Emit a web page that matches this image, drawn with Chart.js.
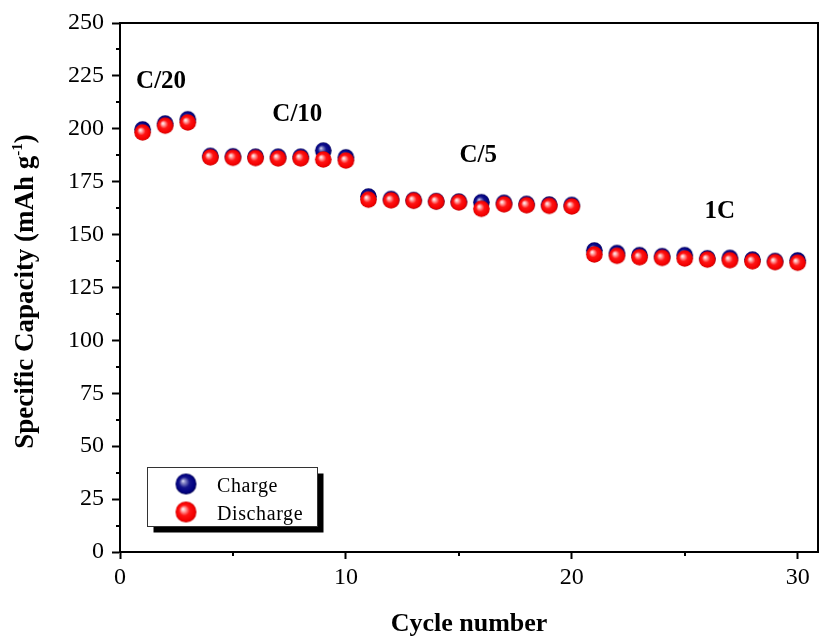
<!DOCTYPE html>
<html>
<head>
<meta charset="utf-8">
<script src="https://cdn.jsdelivr.net/npm/chart.js@4/dist/chart.umd.min.js"></script>
<style>
  html, body { margin: 0; padding: 0; background: #ffffff; }
  #wrap { width: 823px; height: 637px; }
</style>
</head>
<body>
<div id="wrap"><canvas id="c" width="823" height="637"></canvas></div>
<script>
// Rate-capability test: specific capacity per cycle
const cycles = [1,2,3,4,5,6,7,8,9,10,11,12,13,14,15,16,17,18,19,20,21,22,23,24,25,26,27,28,29,30];
const chargeCapacity = [199.7,202.5,204.5,187.2,187.0,186.8,186.8,186.8,189.7,186.5,
                        168.0,166.8,166.3,165.8,165.6,165.3,165.0,164.5,164.2,164.0,
                        142.5,141.3,140.3,139.8,140.3,138.8,139.0,138.2,137.5,137.8];
const dischargeCapacity = [198.3,201.5,203.0,186.5,186.3,186.2,186.0,186.0,185.5,185.0,
                           166.5,166.2,166.0,165.6,165.2,162.2,164.3,163.9,163.6,163.3,
                           140.6,140.0,139.3,139.0,138.7,138.2,137.9,137.4,137.0,136.7];
const rateLabels = ['C/20', 'C/10', 'C/5', '1C'];
const seriesNames = ['Charge', 'Discharge'];

// where each rate label sits, in axis units (x: cycle, y: capacity at text baseline)
const rateLabelAnchors = [[1.82, 219.5], [7.85, 203.8], [15.86, 184.4], [26.55, 157.9]];

const SERIF = "'Liberation Serif', 'Times New Roman', Times, serif";

// shaded ball used as point marker
function makeBall(r, stops) {
  const c = document.createElement('canvas');
  const s = Math.ceil(2 * r + 2);
  c.width = s; c.height = s;
  const g = c.getContext('2d');
  const cx = s / 2, cy = s / 2;
  const grad = g.createRadialGradient(cx - r * 0.3, cy - r * 0.3, 0, cx, cy, r);
  stops.forEach(([o, col]) => grad.addColorStop(o, col));
  g.fillStyle = grad;
  g.beginPath();
  g.arc(cx, cy, r, 0, Math.PI * 2);
  g.fill();
  return c;
}
const redStops = [[0, '#ffffff'], [0.18, '#ffb4b4'], [0.5, '#ff1414'], [0.85, '#f40000'], [1, '#c80000']];
const blueStops = [[0, '#e8e8ff'], [0.18, '#8c8cc8'], [0.5, '#14148c'], [0.85, '#000080'], [1, '#000050']];
const redBall = makeBall(8.3, redStops);
const blueBall = makeBall(8.3, blueStops);
const redBallBig = makeBall(10.5, redStops);
const blueBallBig = makeBall(10.5, blueStops);

const decorations = {
  id: 'decorations',
  afterDraw(chart) {
    const ctx = chart.ctx;
    const xs = chart.scales.x, ys = chart.scales.y;
    const a = chart.chartArea;
    ctx.save();

    // frame (top and right)
    ctx.strokeStyle = '#000';
    ctx.lineWidth = 2;
    ctx.beginPath();
    ctx.moveTo(a.left, a.top);
    ctx.lineTo(a.right, a.top);
    ctx.lineTo(a.right, a.bottom);
    ctx.stroke();

    // minor ticks
    ctx.lineWidth = 2;
    ctx.beginPath();
    for (let v = 12.5; v < 250; v += 25) {
      const p = Math.round(ys.getPixelForValue(v));
      ctx.moveTo(a.left, p); ctx.lineTo(a.left - 4, p);
    }
    for (let v = 5; v < 31; v += 10) {
      const p = Math.round(xs.getPixelForValue(v));
      ctx.moveTo(p, a.bottom); ctx.lineTo(p, a.bottom + 4);
    }
    ctx.stroke();

    // rate labels
    ctx.fillStyle = '#000';
    ctx.font = 'bold 25px ' + SERIF;
    ctx.textAlign = 'center';
    ctx.textBaseline = 'alphabetic';
    rateLabels.forEach((t, i) => {
      const [vx, vy] = rateLabelAnchors[i];
      ctx.fillText(t, xs.getPixelForValue(vx), ys.getPixelForValue(vy));
    });

    // axis titles
    ctx.font = 'bold 26px ' + SERIF;
    ctx.fillText('Cycle number', (a.left + a.right) / 2, 631);

    ctx.save();
    ctx.translate(33, 291.5);
    ctx.rotate(-Math.PI / 2);
    const mainTxt = 'Specific Capacity (mAh g';
    const supTxt = '-1';
    const endTxt = ')';
    ctx.font = 'bold 27px ' + SERIF;
    const w1 = ctx.measureText(mainTxt).width;
    const w3 = ctx.measureText(endTxt).width;
    ctx.font = 'bold 15px ' + SERIF;
    const w2 = ctx.measureText(supTxt).width;
    const total = w1 + w2 + w3;
    let x0 = -total / 2;
    ctx.textAlign = 'left';
    ctx.font = 'bold 27px ' + SERIF;
    ctx.fillText(mainTxt, x0, 0);
    ctx.font = 'bold 15px ' + SERIF;
    ctx.fillText(supTxt, x0 + w1, -11);
    ctx.font = 'bold 27px ' + SERIF;
    ctx.fillText(endTxt, x0 + w1 + w2, 0);
    ctx.restore();

    // legend box with drop shadow
    const lx = 147.5, ly = 467.5, lw = 170, lh = 59;
    ctx.fillStyle = '#000';
    ctx.fillRect(lx + 6, ly + 6, lw, lh);
    ctx.fillStyle = '#fff';
    ctx.fillRect(lx, ly, lw, lh);
    ctx.strokeStyle = '#333';
    ctx.lineWidth = 1;
    ctx.strokeRect(lx, ly, lw, lh);

    ctx.drawImage(blueBallBig, 186 - blueBallBig.width / 2, 484 - blueBallBig.height / 2);
    ctx.drawImage(redBallBig, 186 - redBallBig.width / 2, 512 - redBallBig.height / 2);
    ctx.fillStyle = '#000';
    ctx.textAlign = 'left';
    ctx.letterSpacing = '0.6px';
    ctx.font = '20px ' + SERIF;
    ctx.fillText(seriesNames[0], 217, 491.5);
    ctx.fillText(seriesNames[1], 217, 519.5);
    ctx.letterSpacing = '0px';

    ctx.restore();
  }
};

new Chart(document.getElementById('c'), {
  type: 'scatter',
  data: {
    datasets: [
      {
        label: seriesNames[0],
        data: cycles.map((c, i) => ({ x: c, y: chargeCapacity[i] })),
        pointStyle: blueBall,
        order: 2,
        showLine: false
      },
      {
        label: seriesNames[1],
        data: cycles.map((c, i) => ({ x: c, y: dischargeCapacity[i] })),
        pointStyle: redBall,
        order: 1,
        showLine: false
      }
    ]
  },
  options: {
    responsive: false,
    animation: false,
    devicePixelRatio: 1,
    layout: { padding: { top: 23, right: 5, left: 0, bottom: 0 } },
    plugins: { legend: { display: false }, tooltip: { enabled: false } },
    scales: {
      x: {
        type: 'linear',
        min: 0,
        max: 30.9,
        afterFit(scale) { scale.height = 85; },
        border: { display: true, color: '#000', width: 2 },
        grid: { drawOnChartArea: false, drawTicks: true, tickLength: 7, tickWidth: 2, tickColor: '#000' },
        ticks: {
          stepSize: 10,
          includeBounds: false,
          color: '#000',
          padding: 4,
          maxRotation: 0,
          font: { family: SERIF, size: 24 }
        }
      },
      y: {
        type: 'linear',
        min: 0,
        max: 250,
        afterFit(scale) { scale.width = 120; },
        border: { display: true, color: '#000', width: 2 },
        grid: { drawOnChartArea: false, drawTicks: true, tickLength: 8, tickWidth: 2, tickColor: '#000' },
        ticks: {
          stepSize: 25,
          color: '#000',
          padding: 8,
          font: { family: SERIF, size: 24 }
        }
      }
    }
  },
  plugins: [decorations]
});
</script>
</body>
</html>
